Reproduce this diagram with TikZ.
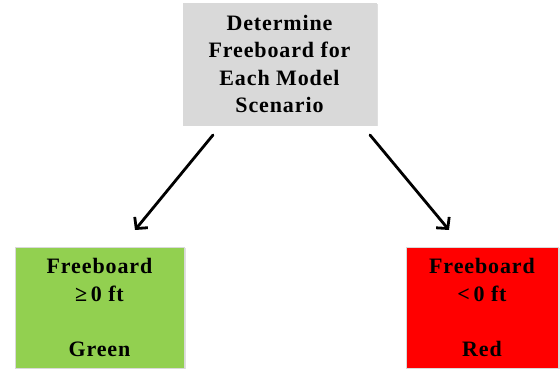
\documentclass[tikz,border=0pt]{standalone}
\usepackage{fontspec}
\setmainfont{Liberation Serif}[LetterSpace=4]
\usetikzlibrary{arrows.meta,shadows}
\definecolor{boxgray}{HTML}{D9D9D9}
\definecolor{boxgreen}{HTML}{92D050}
\definecolor{boxred}{HTML}{FF0000}
\tikzset{
  cbox/.style={draw=black!15, line width=0.6pt, inner sep=0pt, align=center,
    font=\bfseries\fontsize{22}{27.5}\selectfont,
    drop shadow={shadow xshift=1.5pt, shadow yshift=-1.5pt, opacity=0.25}},
  arr/.style={-{Straight Barb[length=8pt,width=17pt]}, line width=2.8pt, line cap=round}
}
\begin{document}
\begin{tikzpicture}[x=1pt,y=1pt]
\useasboundingbox (0,0) rectangle (560,371);
\node[cbox, fill=boxgray, minimum width=193pt, minimum height=122pt] (top) at (279.5,307) {Determine\\Freeboard for\\Each Model\\Scenario};
\node[cbox, fill=boxgreen, minimum width=169pt, minimum height=121pt] (green) at (99.5,63.5) {Freeboard\\≥\,0 ft\\[27.5pt]Green};
\node[cbox, fill=boxred, minimum width=152pt, minimum height=121pt] (red) at (482,63.5) {Freeboard\\<\,0 ft\\[27.5pt]Red};
\coordinate (a1) at (213,236);
\coordinate (a2) at (135,141);
\coordinate (b1) at (370,236);
\coordinate (b2) at (449,141);
\draw[arr] (a1) -- (a2);
\draw[arr] (b1) -- (b2);
\end{tikzpicture}
\end{document}
